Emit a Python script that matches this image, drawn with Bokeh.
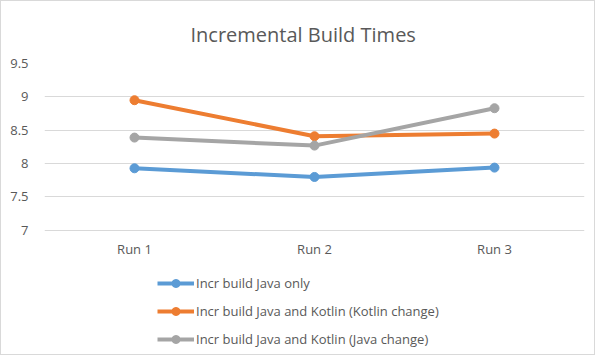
from bokeh.plotting import figure
from bokeh.models import Range1d, Legend, LegendItem, FixedTicker
from bokeh.embed import file_html
from bokeh.resources import INLINE

runs = ["Run 1", "Run 2", "Run 3"]
java_only = [7.93, 7.80, 7.94]
kotlin_change = [8.95, 8.41, 8.45]
java_change = [8.39, 8.27, 8.83]
series_names = [
    "Incr build Java only",
    "Incr build Java and Kotlin (Kotlin change)",
    "Incr build Java and Kotlin (Java change)",
]
y_ticks = [7, 7.5, 8, 8.5, 9, 9.5]
y_axis_floor = 7
y_view = (5.14, 9.5)   # lower part of the frame holds the legend

colors = ["#5b9bd5", "#ed7d31", "#a5a5a5"]
FONT = "Open Sans"
TXT = "#595959"

p = figure(frame_width=540, frame_height=291, x_range=runs, y_range=Range1d(*y_view),
           output_backend="svg", toolbar_location=None,
           title="Incremental Build Times")
p.title.align = "left"
p.title.offset = 146
p.title.text_font = FONT
p.title.text_font_size = "20px"
p.title.text_font_style = "normal"
p.title.text_color = TXT
p.title.standoff = 32
p.outline_line_color = None
p.min_border_left = 43
p.min_border_right = 10
p.min_border_top = 62
p.min_border_bottom = 0
p.styles = {"border": "1px solid #d9d9d9"}

p.xgrid.grid_line_color = None
p.ygrid.grid_line_color = "#d9d9d9"
p.yaxis.ticker = FixedTicker(ticks=y_ticks)
p.yaxis.major_label_overrides = {7: "7", 8: "8", 9: "9"}
p.xaxis.fixed_location = y_axis_floor
for ax in (p.xaxis[0], p.yaxis[0]):
    ax.axis_line_color = None
    ax.major_tick_line_color = None
    ax.minor_tick_line_color = None
    ax.major_label_text_font = FONT
    ax.major_label_text_font_size = "13px"
    ax.major_label_text_color = TXT
p.xaxis.major_label_standoff = 4
p.yaxis.major_label_standoff = 10

items = []
for vals, c, name in zip([java_only, kotlin_change, java_change], colors, series_names):
    l = p.line(runs, vals, line_color=c, line_width=4)
    s = p.scatter(runs, vals, color=c, size=9)
    items.append(LegendItem(label=name, renderers=[l, s]))

legend = Legend(items=items, location=(113, 5), orientation="vertical")
legend.border_line_color = None
legend.background_fill_alpha = 0
legend.label_text_font = FONT
legend.label_text_font_size = "13px"
legend.label_text_color = TXT
legend.glyph_width = 37
legend.glyph_height = 20
legend.label_height = 20
legend.spacing = 8
legend.padding = 4
legend.margin = 0
legend.label_standoff = 2
p.add_layout(legend, "center")

open("out.html", "w").write(file_html(p, INLINE))
